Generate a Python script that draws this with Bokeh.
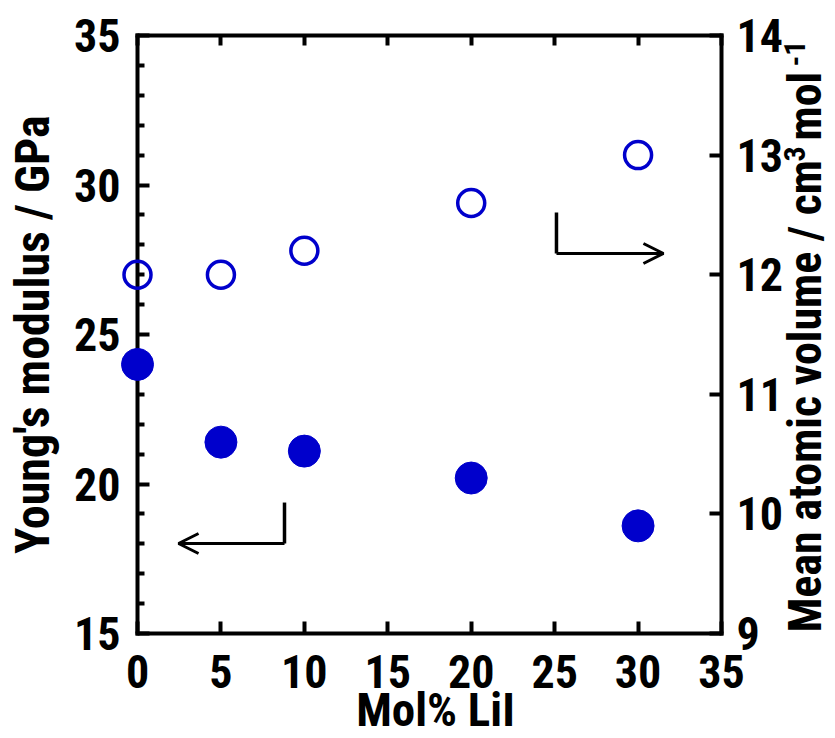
import math
from bokeh.plotting import figure
from bokeh.models import (Range1d, LinearAxis, FixedTicker, Arrow, OpenHead,
                          CustomJSTickFormatter)
from bokeh.core.properties import value
from bokeh.embed import file_html
from bokeh.resources import INLINE

# ---- data ----
mol_lii = [0, 5, 10, 20, 30]
youngs_modulus = [24.0, 21.4, 21.1, 20.2, 18.6]          # GPa (left axis)
mean_atomic_volume = [12.0, 12.0, 12.2, 12.6, 13.0]      # cm3/mol (right axis)

x_ticks = [0, 5, 10, 15, 20, 25, 30, 35]
left_ticks = [15, 20, 25, 30, 35]
left_minor = [v for v in range(16, 35) if v % 5 != 0]
right_ticks = [9, 10, 11, 12, 13, 14]

FONT = "Roboto Condensed, Liberation Sans"
BLUE = "#0000cc"

p = figure(width=835, height=738, x_range=Range1d(0, 35), y_range=Range1d(15, 35),
           output_backend="svg", toolbar_location=None,
           min_border_left=137, min_border_right=114, min_border_top=35, min_border_bottom=105)
p.extra_y_ranges = {"vol": Range1d(9, 14)}
p.grid.visible = False
p.outline_line_color = None
p.background_fill_color = "white"
p.border_fill_color = "white"


def style(ax, tick_in=12):
    ax.axis_line_width = 4
    ax.axis_line_color = "black"
    ax.axis_line_cap = "square"
    ax.major_tick_line_width = 4
    ax.minor_tick_line_width = 4
    ax.major_tick_line_color = "black"
    ax.minor_tick_line_color = "black"
    ax.major_tick_in = tick_in
    ax.major_tick_out = 0
    ax.minor_tick_in = 7
    ax.minor_tick_out = 0
    ax.major_label_text_font = FONT
    ax.major_label_text_font_style = "bold"
    ax.major_label_text_font_size = "46px"
    ax.major_label_text_color = "black"


xa = p.xaxis[0]
xa.ticker = FixedTicker(ticks=x_ticks, minor_ticks=[])
style(xa)
xa.major_label_standoff = 21

ya = p.yaxis[0]
ya.ticker = FixedTicker(ticks=left_ticks, minor_ticks=left_minor)
style(ya)
ya.major_label_standoff = 17

ra = LinearAxis(y_range_name="vol", ticker=FixedTicker(ticks=right_ticks, minor_ticks=[]))
style(ra)
ra.major_label_standoff = 15
p.add_layout(ra, "right")

ta = LinearAxis(ticker=FixedTicker(ticks=x_ticks, minor_ticks=[]),
                formatter=CustomJSTickFormatter(code="return ''"))
style(ta, tick_in=10)
ta.major_label_standoff = 0
ta.major_label_text_font_size = "1px"
p.add_layout(ta, "above")

# ---- data marks ----
p.scatter(mol_lii, youngs_modulus, size=32, fill_color=BLUE, line_color=BLUE, level="overlay")
p.scatter(mol_lii, mean_atomic_volume, y_range_name="vol", size=27, fill_color=None,
          line_color=BLUE, line_width=3.5, level="overlay")


# ---- axis titles (text glyphs, drawn unclipped) ----
def lab(x, y, text, size, angle=0.0, align="center"):
    p.text(x=[x], y=[y], text=[text], angle=angle, text_align=align,
           text_baseline="alphabetic", text_font=value(FONT), text_font_style="bold",
           text_font_size=size, text_color="black", level="overlay")


lab(17.86, 12.46, "Mol% LiI", "47px")
lab(-6.29, 25.0, "Young's modulus / GPa", "48px", angle=math.pi / 2)
lab(40.03, 15.03, "Mean atomic volume / cm", "46px", angle=math.pi / 2, align="left")
lab(39.37, 30.79, "3", "30px", angle=math.pi / 2, align="left")
lab(40.03, 31.49, "mol", "46px", angle=math.pi / 2, align="left")
lab(39.37, 33.96, "-1", "30px", angle=math.pi / 2, align="left")

# ---- direction arrows ----
p.add_layout(Arrow(end=None, x_start=8.81, y_start=19.38, x_end=8.81, y_end=18.01,
                   line_width=3.5, line_color="black"))
p.add_layout(Arrow(end=OpenHead(size=20, line_width=3, line_color="black"),
                   x_start=8.81, y_start=18.01, x_end=2.46, y_end=18.01,
                   line_width=3, line_color="black"))
p.add_layout(Arrow(end=None, x_start=25.11, y_start=29.08, x_end=25.11, y_end=27.71,
                   line_width=3.5, line_color="black"))
p.add_layout(Arrow(end=OpenHead(size=20, line_width=3, line_color="black"),
                   x_start=25.11, y_start=27.71, x_end=31.52, y_end=27.71,
                   line_width=3, line_color="black"))

open("out.html", "w").write(file_html(p, INLINE))
